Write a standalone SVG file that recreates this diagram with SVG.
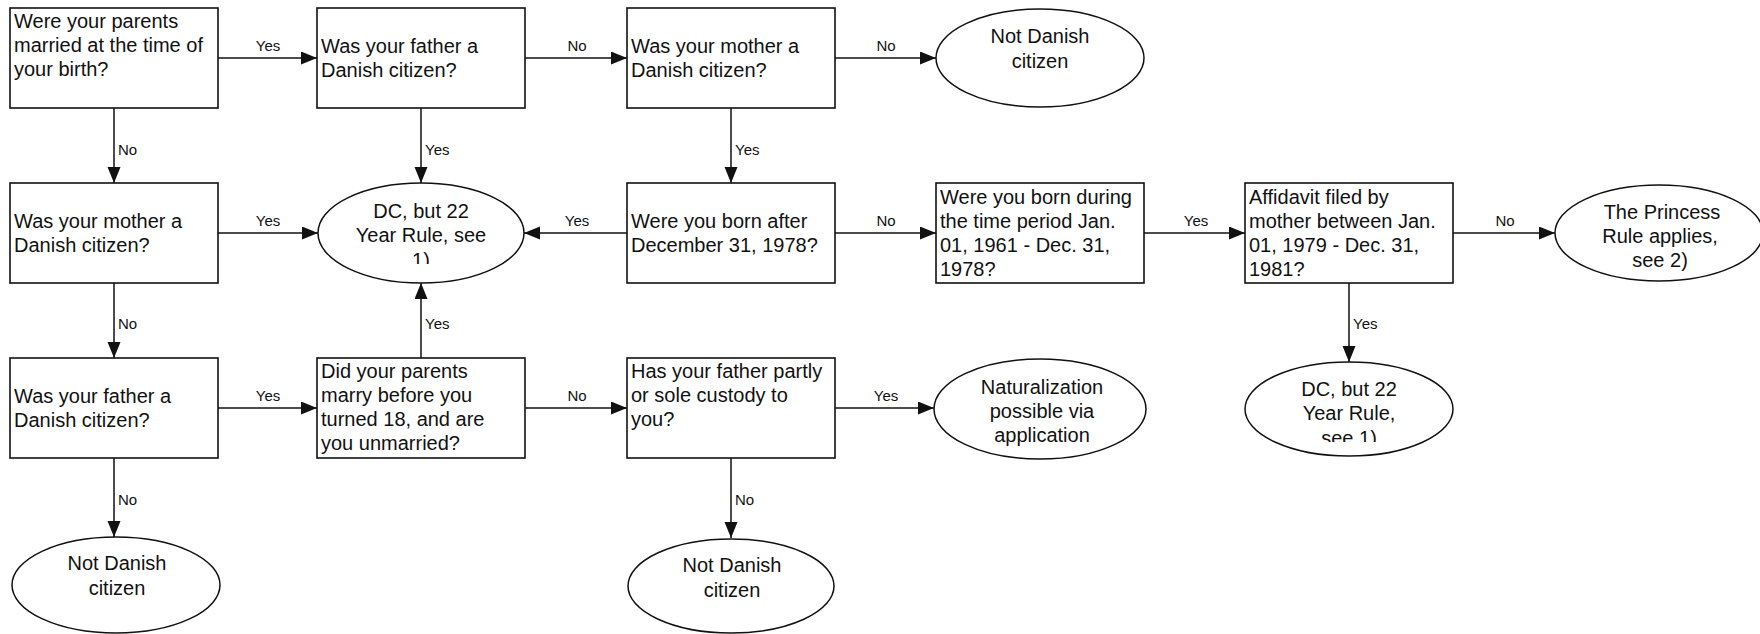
<svg xmlns="http://www.w3.org/2000/svg" width="1760" height="634" viewBox="0 0 1760 634">
<style>
.box{fill:#fff;stroke:#111;stroke-width:1.6}
.ell{fill:#fff;stroke:#111;stroke-width:1.5}
.t{font-family:"Liberation Sans",Arial,Helvetica,sans-serif;font-size:20px;fill:#111}
.c{text-anchor:middle}
.lbl{font-family:"Liberation Sans",Arial,Helvetica,sans-serif;font-size:15px;fill:#111}
.m{text-anchor:middle}
.ln{fill:none;stroke:#111;stroke-width:1.5}
</style>
<defs>
<marker id="ah" markerUnits="userSpaceOnUse" markerWidth="17" markerHeight="14" refX="16" refY="6.5" orient="auto">
<path d="M0,0 L16,6.5 L0,13 Z" fill="#111"/>
</marker>
<clipPath id="clipDC1"><rect x="300" y="180" width="240" height="84"/></clipPath>
<clipPath id="clipDC2"><rect x="1230" y="360" width="240" height="82"/></clipPath>
</defs>
<rect width="1760" height="634" fill="#fff"/>

<g id="connectors">
<line class="ln" x1="218" y1="58" x2="317" y2="58" marker-end="url(#ah)"/>
<line class="ln" x1="525" y1="58" x2="627" y2="58" marker-end="url(#ah)"/>
<line class="ln" x1="835" y1="58" x2="936" y2="58" marker-end="url(#ah)"/>
<line class="ln" x1="218" y1="233" x2="318" y2="233" marker-end="url(#ah)"/>
<line class="ln" x1="627" y1="233" x2="524" y2="233" marker-end="url(#ah)"/>
<line class="ln" x1="835" y1="233" x2="936" y2="233" marker-end="url(#ah)"/>
<line class="ln" x1="1144" y1="233" x2="1245" y2="233" marker-end="url(#ah)"/>
<line class="ln" x1="1453" y1="233" x2="1555" y2="233" marker-end="url(#ah)"/>
<line class="ln" x1="218" y1="408" x2="317" y2="408" marker-end="url(#ah)"/>
<line class="ln" x1="525" y1="408" x2="627" y2="408" marker-end="url(#ah)"/>
<line class="ln" x1="835" y1="408" x2="934" y2="408" marker-end="url(#ah)"/>
<line class="ln" x1="114" y1="108" x2="114" y2="183" marker-end="url(#ah)"/>
<line class="ln" x1="114" y1="283" x2="114" y2="358" marker-end="url(#ah)"/>
<line class="ln" x1="114" y1="458" x2="114" y2="537" marker-end="url(#ah)"/>
<line class="ln" x1="421" y1="108" x2="421" y2="183" marker-end="url(#ah)"/>
<line class="ln" x1="421" y1="358" x2="421" y2="283" marker-end="url(#ah)"/>
<line class="ln" x1="731" y1="108" x2="731" y2="183" marker-end="url(#ah)"/>
<line class="ln" x1="731" y1="458" x2="731" y2="538" marker-end="url(#ah)"/>
<line class="ln" x1="1349" y1="283" x2="1349" y2="362" marker-end="url(#ah)"/>
<text class="lbl m" x="268" y="51">Yes</text>
<text class="lbl m" x="577" y="51">No</text>
<text class="lbl m" x="886" y="51">No</text>
<text class="lbl m" x="268" y="226">Yes</text>
<text class="lbl m" x="577" y="226">Yes</text>
<text class="lbl m" x="886" y="226">No</text>
<text class="lbl m" x="1196" y="226">Yes</text>
<text class="lbl m" x="1505" y="226">No</text>
<text class="lbl m" x="268" y="401">Yes</text>
<text class="lbl m" x="577" y="401">No</text>
<text class="lbl m" x="886" y="401">Yes</text>
<text class="lbl" x="118" y="155">No</text>
<text class="lbl" x="425" y="155">Yes</text>
<text class="lbl" x="735" y="155">Yes</text>
<text class="lbl" x="118" y="329">No</text>
<text class="lbl" x="425" y="329">Yes</text>
<text class="lbl" x="1353" y="329">Yes</text>
<text class="lbl" x="118" y="505">No</text>
<text class="lbl" x="735" y="505">No</text>
</g>

<g id="q-married">
<rect class="box" x="10" y="8" width="208" height="100"/>
<text class="t" x="14" y="28">Were your parents</text>
<text class="t" x="14" y="52">married at the time of</text>
<text class="t" x="14" y="76">your birth?</text>
</g>
<g id="q-father1">
<rect class="box" x="317" y="8" width="208" height="100"/>
<text class="t" x="321" y="53">Was your father a</text>
<text class="t" x="321" y="77">Danish citizen?</text>
</g>
<g id="q-mother1">
<rect class="box" x="627" y="8" width="208" height="100"/>
<text class="t" x="631" y="53">Was your mother a</text>
<text class="t" x="631" y="77">Danish citizen?</text>
</g>
<g id="r-notdanish1">
<ellipse class="ell" cx="1040" cy="58" rx="104" ry="49"/>
<text class="t c" x="1040" y="43">Not Danish</text>
<text class="t c" x="1040" y="68">citizen</text>
</g>

<g id="q-mother2">
<rect class="box" x="10" y="183" width="208" height="100"/>
<text class="t" x="14" y="228">Was your mother a</text>
<text class="t" x="14" y="252">Danish citizen?</text>
</g>
<g id="r-dc1">
<ellipse class="ell" cx="421" cy="233" rx="103" ry="50"/>
<g clip-path="url(#clipDC1)">
<text class="t c" x="421" y="218">DC, but 22</text>
<text class="t c" x="421" y="242">Year Rule, see</text>
<text class="t c" x="421" y="267">1)</text>
</g>
</g>
<g id="q-after1978">
<rect class="box" x="627" y="183" width="208" height="100"/>
<text class="t" x="631" y="228">Were you born after</text>
<text class="t" x="631" y="252">December 31, 1978?</text>
</g>
<g id="q-period">
<rect class="box" x="936" y="183" width="208" height="100"/>
<text class="t" x="940" y="204">Were you born during</text>
<text class="t" x="940" y="228">the time period Jan.</text>
<text class="t" x="940" y="252">01, 1961 - Dec. 31,</text>
<text class="t" x="940" y="276">1978?</text>
</g>
<g id="q-affidavit">
<rect class="box" x="1245" y="183" width="208" height="100"/>
<text class="t" x="1249" y="204">Affidavit filed by</text>
<text class="t" x="1249" y="228">mother between Jan.</text>
<text class="t" x="1249" y="252">01, 1979 - Dec. 31,</text>
<text class="t" x="1249" y="276">1981?</text>
</g>
<g id="r-princess">
<ellipse class="ell" cx="1659" cy="233" rx="104" ry="48"/>
<text class="t c" x="1662" y="219">The Princess</text>
<text class="t c" x="1660" y="243">Rule applies,</text>
<text class="t c" x="1660" y="267">see 2)</text>
</g>

<g id="q-father2">
<rect class="box" x="10" y="358" width="208" height="100"/>
<text class="t" x="14" y="403">Was your father a</text>
<text class="t" x="14" y="427">Danish citizen?</text>
</g>
<g id="q-marrybefore">
<rect class="box" x="317" y="358" width="208" height="100"/>
<text class="t" x="321" y="378">Did your parents</text>
<text class="t" x="321" y="402">marry before you</text>
<text class="t" x="321" y="426">turned 18, and are</text>
<text class="t" x="321" y="450">you unmarried?</text>
</g>
<g id="q-custody">
<rect class="box" x="627" y="358" width="208" height="100"/>
<text class="t" x="631" y="378">Has your father partly</text>
<text class="t" x="631" y="402">or sole custody to</text>
<text class="t" x="631" y="426">you?</text>
</g>
<g id="r-naturalization">
<ellipse class="ell" cx="1040" cy="409" rx="106" ry="50"/>
<text class="t c" x="1042" y="394">Naturalization</text>
<text class="t c" x="1042" y="418">possible via</text>
<text class="t c" x="1042" y="442">application</text>
</g>
<g id="r-dc2">
<ellipse class="ell" cx="1349" cy="409" rx="104" ry="47"/>
<g clip-path="url(#clipDC2)">
<text class="t c" x="1349" y="396">DC, but 22</text>
<text class="t c" x="1349" y="420">Year Rule,</text>
<text class="t c" x="1349" y="445">see 1)</text>
</g>
</g>

<g id="r-notdanish2">
<ellipse class="ell" cx="116" cy="585" rx="104" ry="48"/>
<text class="t c" x="117" y="570">Not Danish</text>
<text class="t c" x="117" y="595">citizen</text>
</g>
<g id="r-notdanish3">
<ellipse class="ell" cx="731" cy="586" rx="103" ry="47"/>
<text class="t c" x="732" y="572">Not Danish</text>
<text class="t c" x="732" y="597">citizen</text>
</g>
</svg>
